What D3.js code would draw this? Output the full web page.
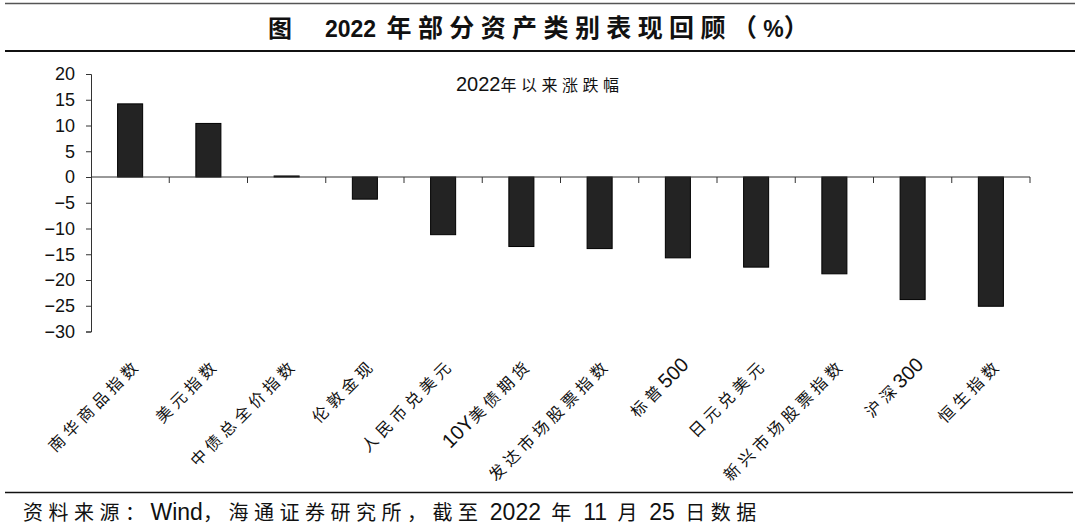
<!DOCTYPE html>
<html>
<head>
<meta charset="utf-8">
<script src="https://cdn.jsdelivr.net/npm/d3@7"></script>
<style>
  html, body { margin: 0; padding: 0; background: #fff; }
  svg { display: block; }
</style>
</head>
<body>
<div id="chart"></div>
<script>
(function () {
  'use strict';

  /* ---------- Data ---------- */
  const categories = ['南华商品指数', '美元指数', '中债总全价指数', '伦敦金现', '人民币兑美元', '10Y美债期货',
                      '发达市场股票指数', '标普500', '日元兑美元', '新兴市场股票指数', '沪深300', '恒生指数'];
  const values = [14.2, 10.4, 0.2, -4.3, -11.2, -13.5, -13.9, -15.7, -17.5, -18.8, -23.8, -25.1];
  const yTicks = [20, 15, 10, 5, 0, -5, -10, -15, -20, -25, -30];

  const titleText = '2022 年部分资产类别表现回顾（%）';
  const seriesName = '2022年以来涨跌幅';
  const sourceText = '资料来源：Wind，海通证券研究所，截至 2022 年 11 月 25 日数据';

  /* ---------- Size ---------- */
  const W = 1080, H = 531;
  const plot = { left: 91, right: 1030, top: 74, bottom: 331.5 };
  const font = "'Liberation Sans', Arial, 'Noto Sans CJK SC', sans-serif";

  const svg = d3.select('#chart').append('svg')
    .attr('width', W).attr('height', H);

  // split a label into latin / CJK runs so digits keep their own size and spacing;
  // trailing spaces of a run become a dx gap on the next run
  function appendRuns(sel, str, latin, cjk) {
    const runs = str.match(/[\x20-\x7e]+|[^\x20-\x7e]+/g) || [];
    let gap = 0;
    runs.forEach(r => {
      const ascii = /^[\x20-\x7e]+$/.test(r);
      const o = ascii ? latin : cjk;
      const trail = r.length - r.replace(/ +$/, '').length;
      const body = r.replace(/ +$/, '').replace(/ /g, '\u00a0');
      sel.append('tspan')
        .attr('font-size', o.size + 'px')
        .attr('letter-spacing', o.spacing + 'px')
        .attr('dx', gap || null)
        .text(body);
      gap = trail * 0.45 * o.size;
    });
  }

  /* ---------- Header ---------- */
  svg.append('line').attr('x1', 5).attr('x2', 1075).attr('y1', 3.5).attr('y2', 3.5)
    .attr('stroke', '#555').attr('stroke-width', 1.5);
  svg.append('line').attr('x1', 5).attr('x2', 1075).attr('y1', 51).attr('y2', 51)
    .attr('stroke', '#111').attr('stroke-width', 2.2);

  svg.append('text')
    .attr('x', 268).attr('y', 37)
    .attr('font-family', font).attr('font-size', '24px').attr('font-weight', 700)
    .attr('fill', '#111')
    .text('图');
  svg.append('text')
    .attr('x', 325).attr('y', 37)
    .attr('font-family', font).attr('font-weight', 700)
    .attr('fill', '#111')
    .call(t => appendRuns(t, titleText,
      { size: 23, spacing: 0 },
      { size: 25, spacing: 6.4 }));

  /* ---------- Scales ---------- */
  const x = d3.scaleBand()
    .domain(categories)
    .range([plot.left, plot.right])
    .paddingInner(0.68)
    .paddingOuter(0.34);

  const y = d3.scaleLinear()
    .domain([-30, 20])
    .range([plot.bottom, plot.top]);

  const step = x.step();

  /* ---------- Y axis ---------- */
  const yAxis = svg.append('g')
    .attr('transform', `translate(${plot.left},0)`)
    .call(d3.axisLeft(y).tickValues(yTicks).tickSize(5).tickPadding(11).tickFormat(d3.format('d')));
  yAxis.select('.domain').attr('stroke', '#333');
  yAxis.selectAll('.tick line').attr('stroke', '#333');
  yAxis.selectAll('.tick text')
    .attr('font-family', "'Liberation Sans', Arial, sans-serif")
    .attr('font-size', '18px')
    .attr('fill', '#111');

  /* ---------- Bars ---------- */
  svg.append('g').selectAll('rect')
    .data(values)
    .join('rect')
    .attr('x', (d, i) => x(categories[i]))
    .attr('width', x.bandwidth())
    .attr('y', d => y(Math.max(0, d)))
    .attr('height', d => Math.abs(y(d) - y(0)))
    .attr('fill', '#232323')
    .attr('stroke', '#000')
    .attr('stroke-width', 1);

  /* ---------- X axis at zero ---------- */
  const xAxis = svg.append('g').attr('transform', `translate(0,${y(0)})`);
  xAxis.append('line')
    .attr('x1', plot.left).attr('x2', plot.right)
    .attr('stroke', '#333').attr('stroke-width', 1);
  xAxis.selectAll('line.tk')
    .data(d3.range(1, categories.length + 1))
    .join('line')
    .attr('class', 'tk')
    .attr('x1', i => plot.left + i * step).attr('x2', i => plot.left + i * step)
    .attr('y1', 0).attr('y2', 6)
    .attr('stroke', '#333');

  /* ---------- Category labels ---------- */
  svg.append('g').selectAll('text')
    .data(categories)
    .join('text')
    .attr('transform', d => `translate(${x(d) + x.bandwidth() / 2 + 12},366) rotate(-45)`)
    .attr('text-anchor', 'end')
    .attr('font-family', font)
    .attr('fill', '#111')
    .each(function (d) {
      appendRuns(d3.select(this), d,
        { size: 20, spacing: 0 },
        { size: 16, spacing: 4.5 });
    });

  /* ---------- Series label ---------- */
  svg.append('text')
    .attr('x', 456).attr('y', 91)
    .attr('font-family', font)
    .attr('fill', '#111')
    .call(t => appendRuns(t, seriesName,
      { size: 20, spacing: 0 },
      { size: 16, spacing: 4.5 }));

  /* ---------- Footer ---------- */
  svg.append('line').attr('x1', 5).attr('x2', 1073).attr('y1', 492.5).attr('y2', 492.5)
    .attr('stroke', '#111').attr('stroke-width', 1.6);
  svg.append('text')
    .attr('x', 23).attr('y', 520)
    .attr('font-family', font)
    .attr('fill', '#111')
    .call(t => appendRuns(t, sourceText,
      { size: 23, spacing: 0 },
      { size: 20, spacing: 5.5 }));
})();
</script>
</body>
</html>
